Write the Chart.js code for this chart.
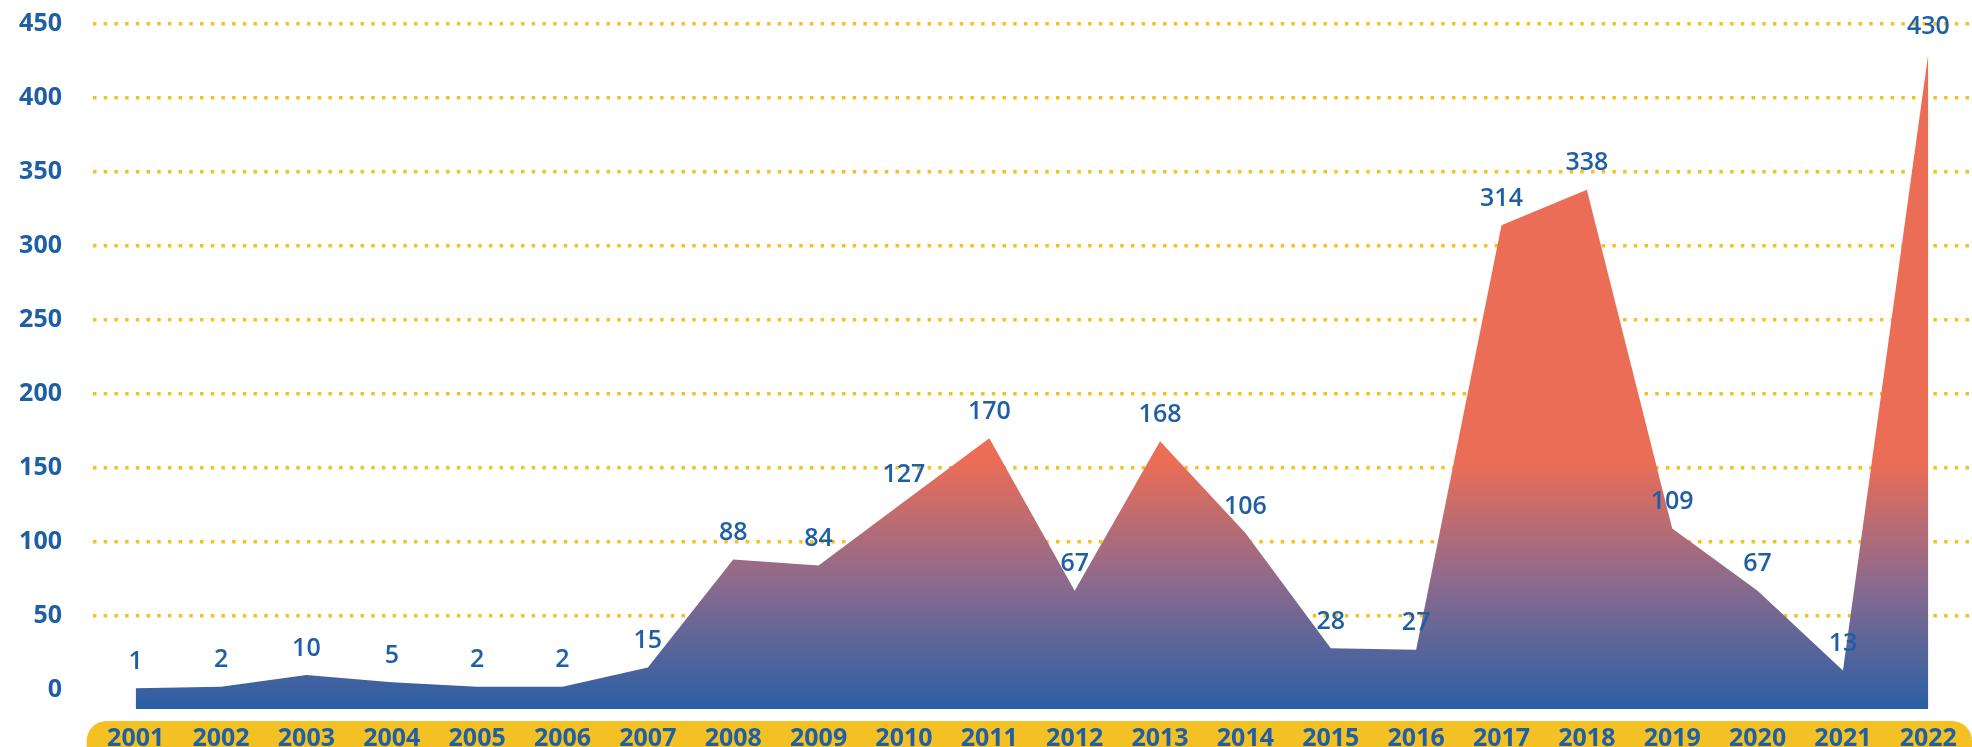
<!DOCTYPE html>
<html>
<head>
<meta charset="utf-8">
<script src="https://cdn.jsdelivr.net/npm/chart.js@4.4.0/dist/chart.umd.min.js"></script>
<style>
	html, body { margin: 0; padding: 0; background: #fff; overflow: hidden; }
	#wrap { position: relative; width: 1972px; height: 747px; }
</style>
</head>
<body>
<div id="wrap"><canvas id="chart"></canvas></div>
<script>
// values
const years = ['2001', '2002', '2003', '2004', '2005', '2006', '2007', '2008', '2009', '2010', '2011',
	'2012', '2013', '2014', '2015', '2016', '2017', '2018', '2019', '2020', '2021', '2022'];
const counts = [1, 2, 10, 5, 2, 2, 15, 88, 84, 127, 170, 67, 168, 106, 28, 27, 314, 338, 109, 67, 13, 430];
const yTicks = [0, 50, 100, 150, 200, 250, 300, 350, 400, 450];

const BLUE = '#1f5fa6';
const YELLOW = '#f4c124';

// yellow rounded band behind the year labels
var yearBand = {
	id: 'yearBand',
	beforeDraw: (chart) => {
		const x = chart.scales.x;
		const c = chart.ctx;
		const left = x.getPixelForValue(0) - 49;
		const top = chart.chartArea.bottom + 12;
		c.save();
		c.fillStyle = YELLOW;
		c.beginPath();
		c.roundRect(left, top, chart.width - left, 60, 20);
		c.fill();
		c.restore();
	}
};

// value labels above each point
var valueLabels = {
	id: 'valueLabels',
	afterDatasetsDraw: (chart) => {
		const c = chart.ctx;
		const meta = chart.getDatasetMeta(0);
		c.save();
		c.fillStyle = BLUE;
		c.font = '600 25px "Open Sans"';
		c.textAlign = 'center';
		c.textBaseline = 'bottom';
		meta.data.forEach((pt, i) => {
			c.fillText(String(counts[i]), pt.x, pt.y - 14);
		});
		c.restore();
	}
};

var areaFill = (context) => {
	const chart = context.chart;
	if (!chart.chartArea) return 'rgba(0,0,0,0)';
	const y = chart.scales.y;
	const g = chart.ctx.createLinearGradient(0, y.getPixelForValue(-13), 0, y.getPixelForValue(155));
	g.addColorStop(0, '#2a5fa4');
	g.addColorStop(0.5, '#8a6a8e');
	g.addColorStop(1, '#ec6d56');
	return g;
};

const config = {
	type: 'line',
	data: {
		labels: years,
		datasets: [{
			data: counts,
			fill: 'start',
			backgroundColor: areaFill,
			borderWidth: 0,
			pointRadius: 0,
			tension: 0
		}]
	},
	options: {
		responsive: true,
		maintainAspectRatio: false,
		animation: false,
		layout: { padding: { top: 24, left: 0, right: 1, bottom: 0 } },
		plugins: { legend: { display: false }, tooltip: { enabled: false } },
		scales: {
			x: {
				offset: true,
				grid: { display: false },
				border: { display: false },
				ticks: {
					color: BLUE,
					font: { family: 'Open Sans', weight: 'bold', size: 25 },
					padding: 7,
					maxRotation: 0,
					autoSkip: false
				},
				afterFit: (s) => { s.height = 38; }
			},
			y: {
				min: -13,
				max: 450,
				afterBuildTicks: (s) => { s.ticks = yTicks.map(v => ({ value: v })); },
				grid: {
					color: (ctx) => ctx.tick && ctx.tick.value === 0 ? 'rgba(0,0,0,0)' : YELLOW,
					lineWidth: 3.5,
					drawTicks: false
				},
				border: { display: false, dash: [3.5, 7.2] },
				ticks: {
					color: BLUE,
					font: { family: 'Open Sans', weight: 'bold', size: 25 },
					padding: 31
				},
				afterFit: (s) => {
					s.width = 93;
					s.paddingTop = 0;
					s.paddingBottom = 0;
				}
			}
		}
	},
	plugins: [yearBand, valueLabels]
};

new Chart(document.getElementById('chart'), config);
</script>
</body>
</html>
